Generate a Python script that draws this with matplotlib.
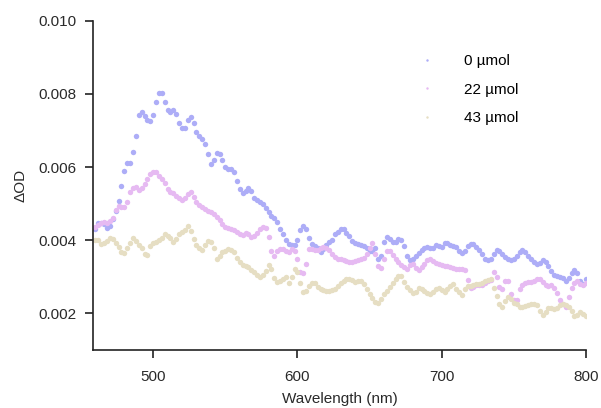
import matplotlib
matplotlib.use("Agg")
import matplotlib.pyplot as plt
import numpy as np

plt.rcParams['font.family'] = ['Liberation Sans', 'DejaVu Sans']

# wavelength grid (nm), 2 nm steps
wavelength = np.arange(460, 801, 2)

od_0umol = [
    0.00432, 0.00446, 0.00448, 0.00445, 0.00434, 0.00440, 0.00458, 0.00480, 0.00508, 0.00548,
    0.00590, 0.00612, 0.00610, 0.00642, 0.00685, 0.00742, 0.00752, 0.00740, 0.00730, 0.00726,
    0.00742, 0.00778, 0.00802, 0.00802, 0.00778, 0.00756, 0.00752, 0.00756, 0.00744, 0.00722,
    0.00708, 0.00708, 0.00728, 0.00736, 0.00720, 0.00697, 0.00686, 0.00676, 0.00662, 0.00635,
    0.00608, 0.00620, 0.00638, 0.00636, 0.00620, 0.00600, 0.00594, 0.00596, 0.00586, 0.00562,
    0.00540, 0.00528, 0.00536, 0.00542, 0.00536, 0.00516, 0.00510, 0.00506, 0.00498, 0.00488,
    0.00478, 0.00467, 0.00460, 0.00450, 0.00432, 0.00416, 0.00401, 0.00390, 0.00386, 0.00388,
    0.00400, 0.00427, 0.00440, 0.00432, 0.00405, 0.00389, 0.00384, 0.00378, 0.00369, 0.00376,
    0.00387, 0.00396, 0.00402, 0.00416, 0.00424, 0.00430, 0.00432, 0.00420, 0.00412, 0.00398,
    0.00392, 0.00391, 0.00387, 0.00384, 0.00380, 0.00372, 0.00372, 0.00380, 0.00350, 0.00356,
    0.00395, 0.00409, 0.00404, 0.00396, 0.00396, 0.00403, 0.00400, 0.00385, 0.00356, 0.00346,
    0.00348, 0.00357, 0.00366, 0.00373, 0.00380, 0.00382, 0.00378, 0.00380, 0.00386, 0.00385,
    0.00382, 0.00392, 0.00394, 0.00388, 0.00384, 0.00382, 0.00370, 0.00364, 0.00372, 0.00384,
    0.00391, 0.00390, 0.00382, 0.00373, 0.00362, 0.00350, 0.00346, 0.00350, 0.00362, 0.00374,
    0.00372, 0.00362, 0.00354, 0.00350, 0.00346, 0.00348, 0.00356, 0.00368, 0.00374, 0.00368,
    0.00358, 0.00350, 0.00342, 0.00336, 0.00338, 0.00345, 0.00342, 0.00330, 0.00316, 0.00306,
    0.00302, 0.00300, 0.00296, 0.00290, 0.00298, 0.00312, 0.00320, 0.00312, 0.00290, 0.00281,
    0.00295,
]

od_22umol = [
    0.00436, 0.00441, 0.00447, 0.00450, 0.00447, 0.00452, 0.00462, 0.00482, 0.00495, 0.00490,
    0.00490, 0.00506, 0.00532, 0.00542, 0.00546, 0.00538, 0.00542, 0.00554, 0.00568, 0.00580,
    0.00588, 0.00586, 0.00576, 0.00568, 0.00556, 0.00540, 0.00532, 0.00528, 0.00522, 0.00517,
    0.00511, 0.00516, 0.00526, 0.00532, 0.00518, 0.00504, 0.00497, 0.00492, 0.00486, 0.00481,
    0.00477, 0.00472, 0.00464, 0.00455, 0.00444, 0.00436, 0.00434, 0.00432, 0.00427, 0.00422,
    0.00416, 0.00414, 0.00421, 0.00416, 0.00409, 0.00413, 0.00420, 0.00432, 0.00436, 0.00433,
    0.00410, 0.00370, 0.00356, 0.00370, 0.00376, 0.00377, 0.00371, 0.00369, 0.00375, 0.00372,
    0.00348, 0.00313, 0.00312, 0.00335, 0.00375, 0.00376, 0.00373, 0.00373, 0.00378, 0.00382,
    0.00380, 0.00374, 0.00362, 0.00354, 0.00350, 0.00348, 0.00345, 0.00343, 0.00342, 0.00341,
    0.00343, 0.00345, 0.00348, 0.00352, 0.00362, 0.00378, 0.00394, 0.00362, 0.00330, 0.00325,
    0.00348, 0.00370, 0.00370, 0.00360, 0.00348, 0.00340, 0.00332, 0.00326, 0.00322, 0.00332,
    0.00334, 0.00324, 0.00318, 0.00326, 0.00336, 0.00345, 0.00350, 0.00344, 0.00337, 0.00334,
    0.00332, 0.00331, 0.00329, 0.00327, 0.00325, 0.00322, 0.00322, 0.00322, 0.00318, 0.00292,
    0.00270, 0.00272, 0.00277, 0.00277, 0.00279, 0.00284, 0.00288, 0.00291, 0.00314, 0.00300,
    0.00272, 0.00268, 0.00290, 0.00288, 0.00254, 0.00238, 0.00238, 0.00268, 0.00279, 0.00282,
    0.00285, 0.00287, 0.00290, 0.00293, 0.00294, 0.00286, 0.00278, 0.00276, 0.00277, 0.00270,
    0.00256, 0.00238, 0.00226, 0.00218, 0.00244, 0.00270, 0.00284, 0.00290, 0.00280, 0.00278,
    0.00282,
]

od_43umol = [
    0.00402, 0.00400, 0.00391, 0.00392, 0.00397, 0.00406, 0.00404, 0.00393, 0.00382, 0.00368,
    0.00366, 0.00378, 0.00392, 0.00405, 0.00398, 0.00388, 0.00378, 0.00362, 0.00360, 0.00385,
    0.00393, 0.00395, 0.00400, 0.00407, 0.00418, 0.00413, 0.00406, 0.00396, 0.00404, 0.00417,
    0.00423, 0.00428, 0.00438, 0.00425, 0.00404, 0.00388, 0.00378, 0.00373, 0.00386, 0.00398,
    0.00396, 0.00378, 0.00350, 0.00358, 0.00367, 0.00372, 0.00376, 0.00374, 0.00368, 0.00352,
    0.00340, 0.00332, 0.00330, 0.00326, 0.00320, 0.00313, 0.00305, 0.00300, 0.00305, 0.00316,
    0.00332, 0.00322, 0.00298, 0.00286, 0.00289, 0.00295, 0.00300, 0.00284, 0.00300, 0.00321,
    0.00314, 0.00284, 0.00260, 0.00262, 0.00276, 0.00283, 0.00282, 0.00272, 0.00267, 0.00263,
    0.00262, 0.00262, 0.00264, 0.00266, 0.00274, 0.00283, 0.00290, 0.00293, 0.00295, 0.00292,
    0.00287, 0.00289, 0.00290, 0.00280, 0.00266, 0.00254, 0.00242, 0.00232, 0.00230, 0.00240,
    0.00252, 0.00262, 0.00273, 0.00283, 0.00295, 0.00302, 0.00302, 0.00287, 0.00272, 0.00263,
    0.00256, 0.00260, 0.00270, 0.00266, 0.00262, 0.00255, 0.00253, 0.00260, 0.00266, 0.00271,
    0.00264, 0.00259, 0.00266, 0.00275, 0.00280, 0.00268, 0.00258, 0.00250, 0.00266, 0.00274,
    0.00276, 0.00278, 0.00280, 0.00281, 0.00284, 0.00288, 0.00292, 0.00294, 0.00270, 0.00248,
    0.00225, 0.00218, 0.00235, 0.00245, 0.00240, 0.00230, 0.00226, 0.00218, 0.00217, 0.00220,
    0.00222, 0.00225, 0.00227, 0.00224, 0.00206, 0.00195, 0.00205, 0.00216, 0.00215, 0.00213,
    0.00216, 0.00222, 0.00227, 0.00224, 0.00217, 0.00206, 0.00192, 0.00196, 0.00204, 0.00198,
    0.00194,
]

labels = ["0 \u00b5mol", "22 \u00b5mol", "43 \u00b5mol"]
colors = ["#adadf7", "#e6baf2", "#e6dec3"]

fig = plt.figure(figsize=(6.01, 4.08), dpi=100)
ax = fig.add_axes([0.155, 0.142, 0.820, 0.807])

for vals, lab, col in zip([od_0umol, od_22umol, od_43umol], labels, colors):
    ax.plot(wavelength, vals, linestyle="none", marker="o", markersize=3.9,
            markeredgewidth=0, color=col, label=lab)

ax.set_xlim(458.4, 800)
ax.set_ylim(0.001, 0.010)
ax.set_xticks([500, 600, 700, 800])
ax.set_yticks([0.002, 0.004, 0.006, 0.008, 0.010])
ax.set_yticklabels(["0.002", "0.004", "0.006", "0.008", "0.010"])

for side in ["top", "right"]:
    ax.spines[side].set_visible(False)
for side in ["left", "bottom"]:
    ax.spines[side].set_linewidth(1.2)
    ax.spines[side].set_color("#222222")
ax.tick_params(direction="out", length=6, width=1.2, color="#222222",
               labelsize=11, labelcolor="#2a2a2a")
ax.tick_params(axis="x", pad=8)
ax.tick_params(axis="y", pad=6)

ax.set_xlabel("Wavelength (nm)", fontsize=11, color="#2a2a2a", labelpad=6)
ax.set_ylabel("\u0394OD", fontsize=11, color="#2a2a2a", labelpad=8)

ax.legend(loc="upper left", bbox_to_anchor=(0.634, 0.94), frameon=False,
          fontsize=11, labelspacing=0.95, handlelength=1.0, handletextpad=1.9,
          markerscale=0.45)

fig.savefig("out.png", dpi=100)
